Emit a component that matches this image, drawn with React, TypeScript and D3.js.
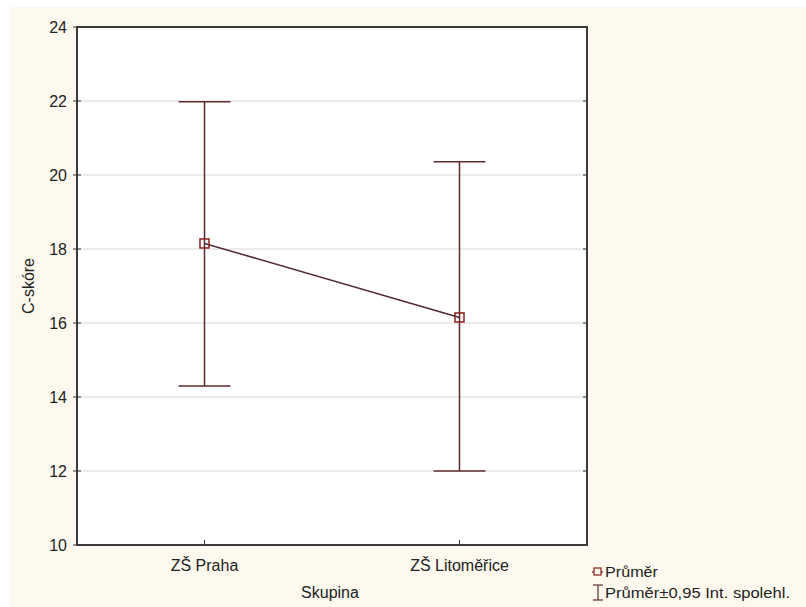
import React from "react";
import * as d3 from "d3";

const categories = ["ZŠ Praha", "ZŠ Litoměřice"];
const means = [18.15, 16.15];
const lower = [14.3, 12.0];
const upper = [21.98, 20.36];
const yTicks = [10, 12, 14, 16, 18, 20, 22, 24];
const yLabel = "C-skóre";
const xLabel = "Skupina";
const legendLabels = ["Průměr", "Průměr±0,95 Int. spolehl."];

export default function App() {
  const W = 806, H = 607;
  const left = 77, right = 587, top = 27, bottom = 545;
  const x = d3.scalePoint<string>().domain(categories).range([left, right]).padding(0.5);
  const y = d3.scaleLinear().domain([10, 24]).range([bottom, top]);
  const line = d3.line<number>().x((_, i) => x(categories[i])!).y((d) => y(d));
  const font = "'Liberation Sans', Arial, sans-serif";
  const barColor = "#5e2b2e";
  const capHalf = 26;
  return (
    <svg width={W} height={H} style={{ position: "absolute", left: 0, top: 0 }} fontFamily={font}>
      <rect x={0} y={0} width={W} height={H} fill="#ffffff" />
      <rect x={10} y={7} width={W - 10} height={H - 7} fill="#fdf9ee" />
      <rect x={left} y={top} width={right - left} height={bottom - top} fill="#ffffff" />
      {yTicks.slice(1, -1).map((t) => (
        <line key={"g" + t} x1={left} x2={right} y1={y(t)} y2={y(t)} stroke="#d9d9d9" strokeWidth={1} />
      ))}
      {yTicks.map((t) => (
        <g key={"t" + t}>
          <line x1={left - 4} x2={left + 4} y1={y(t)} y2={y(t)} stroke="#333" strokeWidth={1} />
          <line x1={right - 4} x2={right} y1={y(t)} y2={y(t)} stroke="#333" strokeWidth={1} />
          <text x={left - 10} y={y(t)} dy="0.36em" textAnchor="end" fontSize={16} fill="#222">{t}</text>
        </g>
      ))}
      {categories.map((c) => (
        <g key={"x" + c}>
          <line x1={x(c)!} x2={x(c)!} y1={bottom} y2={bottom - 5} stroke="#333" strokeWidth={1} />
          <text x={x(c)!} y={571} textAnchor="middle" fontSize={16} fill="#222">{c}</text>
        </g>
      ))}
      {categories.map((c, i) => {
        const cx = x(c)!;
        return (
          <g key={"e" + c} stroke={barColor} strokeWidth={1.5}>
            <line x1={cx} x2={cx} y1={y(upper[i])} y2={y(lower[i])} />
            <line x1={cx - capHalf} x2={cx + capHalf} y1={y(upper[i])} y2={y(upper[i])} />
            <line x1={cx - capHalf} x2={cx + capHalf} y1={y(lower[i])} y2={y(lower[i])} />
          </g>
        );
      })}
      <path d={line(means)!} fill="none" stroke="#4f2a30" strokeWidth={1.5} />
      {categories.map((c, i) => (
        <rect key={"m" + c} x={x(c)! - 4.5} y={y(means[i]) - 4.5} width={9} height={9} fill="none" stroke="#8b1e1e" strokeWidth={1.5} />
      ))}
      <rect x={left} y={top} width={right - left} height={bottom - top} fill="none" stroke="#3a3a3a" strokeWidth={2} />
      <text x={330} y={598} textAnchor="middle" fontSize={16} fill="#222">{xLabel}</text>
      <text transform={`translate(34, ${(top + bottom) / 2}) rotate(-90)`} textAnchor="middle" fontSize={16} fill="#222">{yLabel}</text>
      <g>
        <line x1={592} x2={603} y1={572} y2={572} stroke={barColor} strokeWidth={1.2} />
        <rect x={594} y={568} width={7} height={7} fill="#fdf9ee" stroke="#8b1e1e" strokeWidth={1.2} />
        <text x={605} y={577} fontSize={14} fill="#222" textLength={53} lengthAdjust="spacingAndGlyphs">{legendLabels[0]}</text>
        <line x1={593} x2={603} y1={585} y2={585} stroke={barColor} strokeWidth={1.2} />
        <line x1={598} x2={598} y1={585} y2={600} stroke={barColor} strokeWidth={1.2} />
        <line x1={593} x2={603} y1={600} y2={600} stroke={barColor} strokeWidth={1.2} />
        <text x={605} y={598} fontSize={14} fill="#222" textLength={185} lengthAdjust="spacingAndGlyphs">{legendLabels[1]}</text>
      </g>
    </svg>
  );
}
